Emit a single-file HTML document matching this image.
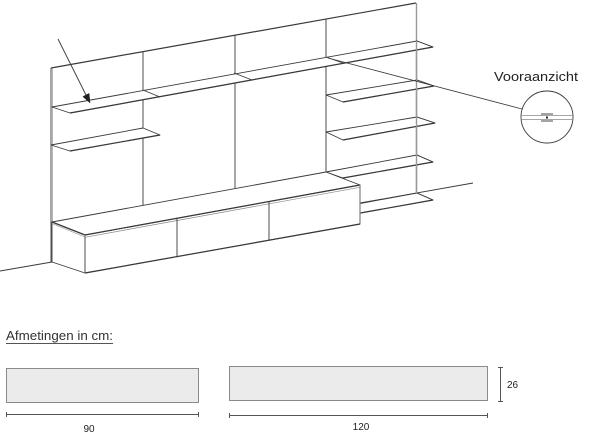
<!DOCTYPE html>
<html><head><meta charset="utf-8"><style>
html,body{margin:0;padding:0;background:#fff;}
svg{display:block;}
</style></head><body>
<svg width="600" height="439" viewBox="0 0 600 439" xmlns="http://www.w3.org/2000/svg">
<g fill="none" stroke="#3a3a3a" stroke-width="0.9" stroke-linejoin="round">
  <!-- wall -->
  <line x1="51" y1="68" x2="416" y2="3" stroke-width="1.2"/>
  <line x1="51" y1="68" x2="51" y2="262"/>
  <line x1="52.5" y1="68" x2="52.5" y2="262" stroke="#888" stroke-width="0.6"/>
  <line x1="416.5" y1="3" x2="416.5" y2="193" stroke="#999" stroke-width="1.4"/>
  <line x1="143" y1="52" x2="143" y2="205"/>
  <line x1="235" y1="35" x2="235" y2="188"/>
  <line x1="326" y1="19" x2="326" y2="172"/>
  <!-- floor lines -->
  <line x1="0" y1="271" x2="52" y2="262"/>
  <line x1="360" y1="203" x2="473" y2="183"/>

  <!-- long top shelf -->
  <polygon points="52,107 417,41 433,47 70,113" fill="#fff"/>
  <line x1="143" y1="90" x2="160" y2="97"/>
  <line x1="234" y1="73" x2="252" y2="80"/>
  <line x1="326" y1="57" x2="343" y2="63"/>
  <line x1="70" y1="113" x2="433" y2="47" stroke-width="1.2"/>

  <!-- left shelf 2 -->
  <polygon points="51,145 143,128 160,135 70,151" fill="#fff"/>
  <line x1="70" y1="151" x2="160" y2="135" stroke-width="1.2"/>

  <!-- right shelves -->
  <polygon points="326,95 417,80 434,86 343,102" fill="#fff"/>
  <line x1="343" y1="102" x2="434" y2="86" stroke-width="1.2"/>
  <polygon points="326,132 417,117 435,123 343,140" fill="#fff"/>
  <line x1="343" y1="140" x2="435" y2="123" stroke-width="1.2"/>
  <polygon points="326,172 417,155 433,162 343,178" fill="#fff"/>
  <line x1="343" y1="178" x2="433" y2="162" stroke-width="1.2"/>
  <polygon points="352,205 417,193 433,200 352,214.5" fill="#fff"/>
  <line x1="352" y1="214.5" x2="433" y2="200" stroke-width="1.2"/>

  <!-- re-draw right panel over shelves -->
  <line x1="416.5" y1="41" x2="416.5" y2="193" stroke="#999" stroke-width="1.4"/>
  <line x1="417" y1="41" x2="433" y2="47"/>
  <line x1="417" y1="80" x2="434" y2="86"/>
  <line x1="417" y1="117" x2="435" y2="123"/>
  <line x1="417" y1="155" x2="433" y2="162"/>
  <line x1="417" y1="193" x2="433" y2="200"/>

  <!-- sideboard -->
  <polygon points="52,222 326,172 360,185 85,235" fill="#fff"/>
  <polygon points="85,235 360,185 360,224 85,273" fill="#fff"/>
  <polygon points="52,222 85,235 85,273 52,262" fill="#fff"/>
  <line x1="52" y1="222" x2="85" y2="235" stroke-width="1.3"/>
  <line x1="53" y1="224" x2="85" y2="237" stroke="#888" stroke-width="0.6"/>
  <line x1="85" y1="235" x2="360" y2="185" stroke-width="1.2"/>
  <line x1="85" y1="237.3" x2="360" y2="187.3" stroke="#888" stroke-width="0.7"/>
  <line x1="85" y1="235" x2="85" y2="273" stroke="#888" stroke-width="1.5"/>
  <line x1="360" y1="185" x2="360" y2="224" stroke="#888" stroke-width="1.3"/>
  <line x1="85" y1="273" x2="360" y2="224" stroke-width="1.2"/>
  <line x1="177" y1="218" x2="177" y2="257"/>
  <line x1="269" y1="202" x2="269" y2="240"/>

  <!-- arrow -->
  <line x1="58" y1="39" x2="87" y2="97"/>
  <polygon points="90,103 82.9,96.6 89.1,93.4" fill="#222" stroke="#222" stroke-width="0.5"/>

  <!-- connector & detail circle -->
  <line x1="328" y1="58" x2="522" y2="109"/>
  <circle cx="547" cy="117" r="26"/>
  <line x1="521" y1="115.5" x2="573" y2="115.5" stroke="#888" stroke-width="0.8"/>
  <line x1="521" y1="119.5" x2="573" y2="119.5" stroke="#888" stroke-width="0.8"/>
  <line x1="541" y1="114" x2="553" y2="114" stroke="#333" stroke-width="0.9"/>
  <line x1="541" y1="121" x2="553" y2="121" stroke="#333" stroke-width="0.9"/>
  <rect x="546" y="116.5" width="2" height="2" fill="#222" stroke="none"/>
</g>

<text x="494" y="81" font-family="Liberation Sans, sans-serif" font-size="13" fill="#222" textLength="84" lengthAdjust="spacingAndGlyphs">Vooraanzicht</text>

<!-- dimensions -->
<text x="6" y="340" font-family="Liberation Sans, sans-serif" font-size="13" fill="#333" textLength="107" lengthAdjust="spacingAndGlyphs">Afmetingen in cm:</text>
<line x1="6" y1="343.5" x2="113" y2="343.5" stroke="#555" stroke-width="0.9"/>

<rect x="6.5" y="368.5" width="192" height="34" fill="#ebebeb" stroke="#8a8a8a" stroke-width="1"/>
<rect x="229.5" y="366.5" width="258" height="34" fill="#ebebeb" stroke="#8a8a8a" stroke-width="1"/>

<g stroke="#555" stroke-width="1">
  <line x1="6" y1="414.5" x2="199" y2="414.5"/>
  <line x1="6.5" y1="412" x2="6.5" y2="417"/>
  <line x1="198.5" y1="412" x2="198.5" y2="417"/>
  <line x1="229" y1="415.5" x2="488" y2="415.5"/>
  <line x1="229.5" y1="413" x2="229.5" y2="418"/>
  <line x1="487.5" y1="413" x2="487.5" y2="418"/>
  <line x1="500.5" y1="367" x2="500.5" y2="402"/>
  <line x1="498" y1="367.5" x2="503" y2="367.5"/>
  <line x1="498" y1="401.5" x2="503" y2="401.5"/>
</g>
<g font-family="Liberation Sans, sans-serif" font-size="10" fill="#222">
  <text x="89" y="432" text-anchor="middle">90</text>
  <text x="361" y="430" text-anchor="middle">120</text>
  <text x="507" y="388">26</text>
</g>
</svg>
</body></html>
